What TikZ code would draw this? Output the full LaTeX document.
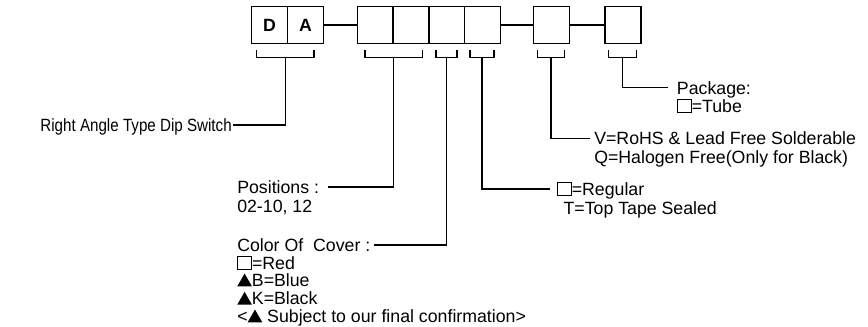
\documentclass[tikz,border=0pt]{standalone}
\usepackage{fontspec}
\setmainfont{Liberation Sans}
\usetikzlibrary{positioning}
\newcommand{\optbox}{\tikz[baseline=0pt]\draw[line width=0.6pt] (0pt,0pt) rectangle (10.5pt,9.6pt);}
\newcommand{\opttri}{\tikz[baseline=0pt]\fill (0pt,0pt) -- (11pt,0pt) -- (5.5pt,9.6pt) -- cycle;}

\begin{document}
\begin{tikzpicture}[x=0.75pt,y=-0.75pt,
  font=\fontsize{13.3}{16}\selectfont,
  cell/.style={draw,line width=1.1pt,minimum width=26.85pt,minimum height=27.5pt,
    inner sep=0pt,outer sep=0pt,font=\fontsize{13.3}{16}\selectfont\bfseries},
  lbl/.style={anchor=west,inner sep=0.75pt,text height=9.5pt,text depth=0pt},
  lead/.style={line width=0.8pt}]
\useasboundingbox (0,0) rectangle (868,326);
% part number boxes
\node[cell] (d) at (269.6,25) {D};
\node[cell,right=0pt of d] (a) {A};
\node[cell] (p1) at (375.2,25) {};
\node[cell,right=0pt of p1] (p2) {};
\node[cell,right=0pt of p2] (c) {};
\node[cell,right=0pt of c] (s) {};
\node[cell] (r) at (551.6,25) {};
\node[cell] (k) at (623,25) {};
\draw[line width=1.1pt] (a) -- (p1);
\draw[line width=1.1pt] (s) -- (r);
\draw[line width=1.1pt] (r) -- (k);
% brackets under the boxes
\foreach \l/\r/\n in {256.7/314/bd,365/422.7/bp,436/457/bc,470/494/bs,537.7/564.3/br,608.3/636.7/bk}{
  \draw[lead] (\l,50) |- (\r,57.5) -- (\r,50);
  \coordinate (\n) at ({(\l+\r)/2},57.5);
}
% labels
\node[lbl,anchor=east] (ldip) at (233,125) {\scalebox{0.855}[1]{Right Angle Type Dip Switch}};
\node[lbl] (lpos) at (236,187) {Positions :};
\node[lbl] (lpos2) at (236,206) {02-10, 12};
\node[lbl] (lcol) at (236,245) {Color Of~ Cover :};
\node[lbl] (lred) at (236,262.7) {\optbox=Red};
\node[lbl] (lblue) at (236,280) {\opttri B=Blue};
\node[lbl] (lblack) at (236,298.3) {\opttri K=Black};
\node[lbl] (lnote) at (236,316) {<\opttri\ Subject to our final confirmation>};
\node[lbl] (lreg) at (555.7,189) {\optbox=Regular};
\node[lbl] (lreg2) at (562.3,208) {T=Top Tape Sealed};
\node[lbl] (lrohs) at (593,138.3) {V=RoHS \& Lead Free Solderable};
\node[lbl] (lrohs2) at (593,156.7) {Q=Halogen Free(Only for Black)};
\node[lbl] (lpack) at (675.7,87.7) {Package:};
\node[lbl] (lpack2) at (675.7,106) {\optbox=Tube};
% leader lines
\draw[lead] (bd) |- (ldip.east);
\draw[lead] (bp) |- ([xshift=6pt]lpos.east);
\draw[lead] (bc) |- ([xshift=2pt]lcol.east);
\draw[lead] (bs) |- ([xshift=-4pt]lreg.west);
\draw[lead] (br) |- ([xshift=-2pt]lrohs.west);
\draw[lead] (bk) |- ([xshift=-6pt]lpack.west);
\end{tikzpicture}
\end{document}
